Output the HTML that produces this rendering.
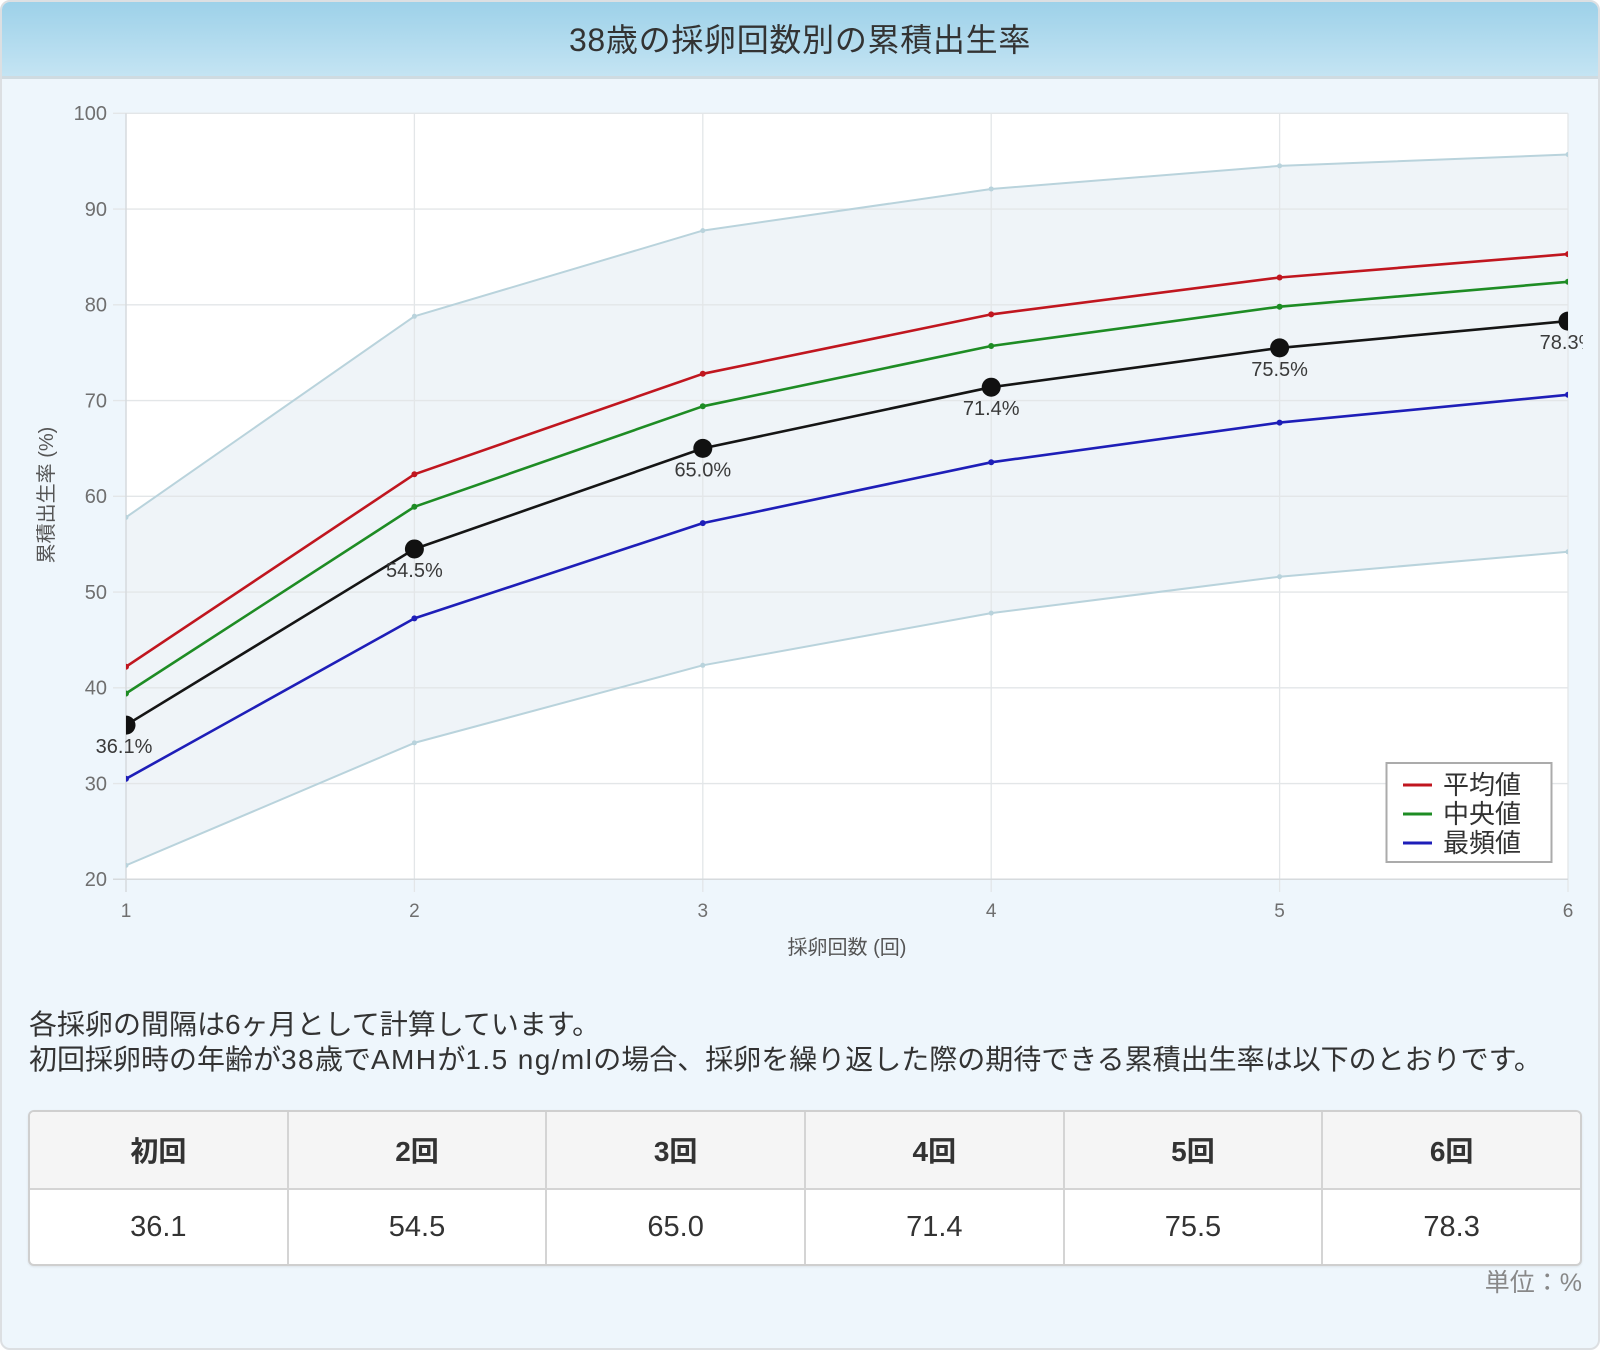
<!DOCTYPE html>
<html><head><meta charset="utf-8">
<style>
html,body{margin:0;padding:0;}
body{width:1600px;height:1350px;position:relative;overflow:hidden;background:#ffffff;font-family:"Liberation Sans","Noto Sans CJK JP",sans-serif;color:#333;}
.panel{position:absolute;left:0;top:0;width:1596px;height:1346px;border:2px solid #dcdfe2;border-radius:10px;background:#eef6fc;overflow:hidden;}
.title{position:absolute;left:0;top:0;width:1596px;height:74px;background:linear-gradient(#9dd1e9,#c4e4f3);border-bottom:3px solid #cfdbe1;}
.title span{position:absolute;left:0;width:100%;top:18px;text-align:center;font-size:32px;line-height:40px;color:#333;letter-spacing:0.7px;}
.txt{position:absolute;left:29px;font-size:28px;line-height:34px;color:#333;white-space:nowrap;}
.txt .l{letter-spacing:1.4px;}
table{position:absolute;left:28px;top:1110px;width:1554px;border-collapse:separate;border-spacing:0;border:2px solid #cfcfcf;border-radius:6px;background:#fff;box-shadow:0 1px 2px rgba(0,0,0,0.08);overflow:hidden;}
td,th{border-right:2px solid #d4d4d4;text-align:center;padding:0;width:258px;}
td:last-child,th:last-child{border-right:none;}
th{height:76px;background:#f5f5f5;font-size:28px;font-weight:bold;color:#333;border-bottom:2px solid #d4d4d4;}
td{height:74px;font-size:29px;font-weight:normal;color:#333;}
.unit{position:absolute;right:18px;top:1263px;font-size:25px;color:#888;}
</style></head>
<body>
<div class="panel">
<div class="title"><span>38歳の採卵回数別の累積出生率</span></div>
</div>
<svg style="position:absolute;left:0;top:0" width="1600" height="980" viewBox="0 0 1600 980" xmlns="http://www.w3.org/2000/svg" font-family="Liberation Sans, Noto Sans CJK JP, sans-serif">
<defs>
<clipPath id="plot"><rect x="126" y="113.3" width="1442" height="766"/></clipPath>
<clipPath id="canvas"><rect x="0" y="80" width="1583" height="900"/></clipPath>
</defs>
<rect x="126" y="113.3" width="1442" height="766" fill="#ffffff"/>
<polygon clip-path="url(#plot)" fill="#eff4f8" points="126,517.35 414.4,316.3 702.8,230.6 991.2,188.95 1279.6,165.9 1568,154.5 1568,551.8 1279.6,576.7 991.2,613.1 702.8,665.3 414.4,742.9 126,865.4"/>
<g stroke="#e3e6e8" stroke-width="1.3">
<line x1="113" y1="113.3" x2="1568" y2="113.3"/>
<line x1="113" y1="209.05" x2="1568" y2="209.05"/>
<line x1="113" y1="304.8" x2="1568" y2="304.8"/>
<line x1="113" y1="400.55" x2="1568" y2="400.55"/>
<line x1="113" y1="496.3" x2="1568" y2="496.3"/>
<line x1="113" y1="592.05" x2="1568" y2="592.05"/>
<line x1="113" y1="687.8" x2="1568" y2="687.8"/>
<line x1="113" y1="783.55" x2="1568" y2="783.55"/>
<line x1="414.4" y1="113.3" x2="414.4" y2="892"/>
<line x1="702.8" y1="113.3" x2="702.8" y2="892"/>
<line x1="991.2" y1="113.3" x2="991.2" y2="892"/>
<line x1="1279.6" y1="113.3" x2="1279.6" y2="892"/>
<line x1="1568" y1="113.3" x2="1568" y2="892"/>
</g>
<g stroke="#d6dadd" stroke-width="1.5">
<line x1="126" y1="113.3" x2="126" y2="892"/>
<line x1="113" y1="879.3" x2="1568" y2="879.3"/>
</g>
<g font-size="20" fill="#6f6f6f" text-anchor="end">
<text x="107" y="120">100</text>
<text x="107" y="216">90</text>
<text x="107" y="311.5">80</text>
<text x="107" y="407.3">70</text>
<text x="107" y="503">60</text>
<text x="107" y="598.8">50</text>
<text x="107" y="694.5">40</text>
<text x="107" y="790.3">30</text>
<text x="107" y="886">20</text>
</g>
<g font-size="19" fill="#6f6f6f" text-anchor="middle">
<text x="126" y="917">1</text>
<text x="414.4" y="917">2</text>
<text x="702.8" y="917">3</text>
<text x="991.2" y="917">4</text>
<text x="1279.6" y="917">5</text>
<text x="1568" y="917">6</text>
</g>
<text x="847" y="954" font-size="20" fill="#555" text-anchor="middle">採卵回数 (回)</text>
<text transform="translate(53,495) rotate(-90)" font-size="20" fill="#555" text-anchor="middle">累積出生率 (%)</text>
<g clip-path="url(#plot)" fill="none" stroke-linejoin="round">
<polyline stroke="#b9d3dc" stroke-width="2" points="126,517.35 414.4,316.3 702.8,230.6 991.2,188.95 1279.6,165.9 1568,154.5"/>
<polyline stroke="#b9d3dc" stroke-width="2" points="126,865.4 414.4,742.9 702.8,665.3 991.2,613.1 1279.6,576.7 1568,551.8"/>
<polyline stroke="#c0161f" stroke-width="2.6" points="126,666.7 414.4,474.3 702.8,373.8 991.2,314.4 1279.6,277.5 1568,254.1"/>
<polyline stroke="#1e8c24" stroke-width="2.6" points="126,693.5 414.4,506.8 702.8,406.3 991.2,346 1279.6,306.7 1568,281.8"/>
<polyline stroke="#1e1eb8" stroke-width="2.6" points="126,778.8 414.4,618.4 702.8,523.1 991.2,462.3 1279.6,422.6 1568,394.8"/>
<polyline stroke="#151515" stroke-width="2.6" points="126,725.1 414.4,548.96 702.8,448.4 991.2,387.2 1279.6,347.9 1568,321.1"/>
</g>
<g clip-path="url(#plot)">
<g fill="#b9d3dc">
<circle cx="126" cy="517.35" r="2.5"/><circle cx="414.4" cy="316.3" r="2.5"/><circle cx="702.8" cy="230.6" r="2.5"/><circle cx="991.2" cy="188.95" r="2.5"/><circle cx="1279.6" cy="165.9" r="2.5"/><circle cx="1568" cy="154.5" r="2.5"/>
<circle cx="126" cy="865.4" r="2.5"/><circle cx="414.4" cy="742.9" r="2.5"/><circle cx="702.8" cy="665.3" r="2.5"/><circle cx="991.2" cy="613.1" r="2.5"/><circle cx="1279.6" cy="576.7" r="2.5"/><circle cx="1568" cy="551.8" r="2.5"/>
</g>
<g fill="#c0161f">
<circle cx="126" cy="666.7" r="3"/><circle cx="414.4" cy="474.3" r="3"/><circle cx="702.8" cy="373.8" r="3"/><circle cx="991.2" cy="314.4" r="3"/><circle cx="1279.6" cy="277.5" r="3"/><circle cx="1568" cy="254.1" r="3"/>
</g>
<g fill="#1e8c24">
<circle cx="126" cy="693.5" r="3"/><circle cx="414.4" cy="506.8" r="3"/><circle cx="702.8" cy="406.3" r="3"/><circle cx="991.2" cy="346" r="3"/><circle cx="1279.6" cy="306.7" r="3"/><circle cx="1568" cy="281.8" r="3"/>
</g>
<g fill="#1e1eb8">
<circle cx="126" cy="778.8" r="3"/><circle cx="414.4" cy="618.4" r="3"/><circle cx="702.8" cy="523.1" r="3"/><circle cx="991.2" cy="462.3" r="3"/><circle cx="1279.6" cy="422.6" r="3"/><circle cx="1568" cy="394.8" r="3"/>
</g>
<g fill="#111">
<circle cx="126" cy="725.1" r="9.5"/><circle cx="414.4" cy="548.96" r="9.5"/><circle cx="702.8" cy="448.4" r="9.5"/><circle cx="991.2" cy="387.2" r="9.5"/><circle cx="1279.6" cy="347.9" r="9.5"/><circle cx="1568" cy="321.1" r="9.5"/>
</g>
</g>
<g clip-path="url(#canvas)" font-size="20" fill="#3a3a3a" text-anchor="middle">
<text x="124" y="753">36.1%</text>
<text x="414.4" y="577">54.5%</text>
<text x="702.8" y="476.4">65.0%</text>
<text x="991.2" y="415.2">71.4%</text>
<text x="1279.6" y="375.9">75.5%</text>
<text x="1568" y="349.1">78.3%</text>
</g>
<rect x="1386.5" y="763" width="165" height="99" fill="#ffffff" stroke="#ababab" stroke-width="2"/>
<g stroke-width="3">
<line x1="1403" y1="785" x2="1432" y2="785" stroke="#c0161f"/>
<line x1="1403" y1="814" x2="1432" y2="814" stroke="#1e8c24"/>
<line x1="1403" y1="843" x2="1432" y2="843" stroke="#1e1eb8"/>
</g>
<g font-size="26" fill="#333">
<text x="1443" y="794">平均値</text>
<text x="1443" y="823">中央値</text>
<text x="1443" y="852">最頻値</text>
</g>
</svg>
<div class="txt" style="top:1008px">各採卵の間隔は6ヶ月として計算しています。</div>
<div class="txt" style="top:1043px">初回採卵時の年齢が<span class="l">38</span>歳で<span class="l">AMH</span>が<span class="l">1.5 ng/ml</span>の場合、採卵を繰り返した際の期待できる累積出生率は以下のとおりです。</div>
<table>
<tr><th>初回</th><th>2回</th><th>3回</th><th>4回</th><th>5回</th><th>6回</th></tr>
<tr><td>36.1</td><td>54.5</td><td>65.0</td><td>71.4</td><td>75.5</td><td>78.3</td></tr>
</table>
<div class="unit">単位：%</div>
</body></html>
